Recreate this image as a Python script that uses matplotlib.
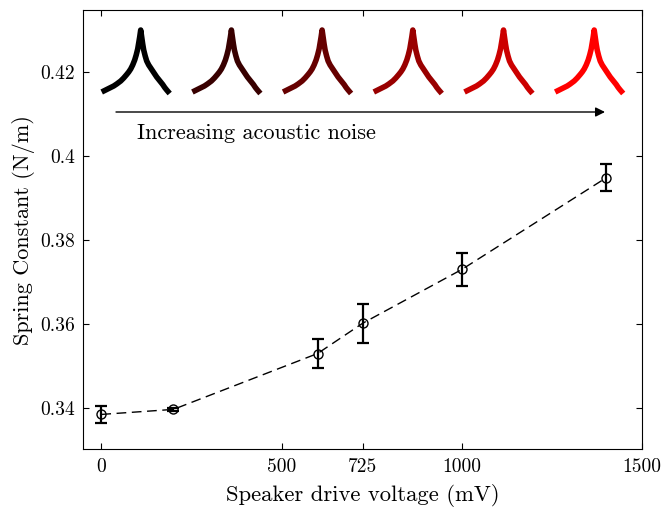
import matplotlib
matplotlib.use("Agg")
import matplotlib.pyplot as plt
import numpy as np

plt.rcParams['font.family'] = ['cmr10', 'DejaVu Serif']
plt.rcParams['axes.formatter.use_mathtext'] = True
plt.rcParams['mathtext.fontset'] = 'cm'

# ---- data ----
voltage_mV = [0, 200, 600, 725, 1000, 1400]
spring_k = [0.3385, 0.3397, 0.3530, 0.3602, 0.3730, 0.3948]
spring_err = [0.0021, 0.0003, 0.0035, 0.0046, 0.0039, 0.0032]

x_ticks = [0, 500, 725, 1000, 1500]
x_ticklabels = ["0", "500", "725", "1000", "1500"]
y_ticks = [0.34, 0.36, 0.38, 0.40, 0.42]
y_ticklabels = ["0.34", "0.36", "0.38", "0.4", "0.42"]

# resonance peak profile (offset / height in pixel units)
peak_dx = [-39, -35, -31, -27, -24, -20, -17, -14, -12, -10, -8, -6, -4.5, -3, -2, -1, 0,
           1, 2, 3, 4.5, 6, 8, 10, 12, 14, 16, 18, 20, 22, 24, 26, 29]
peak_h = [5, 7, 9, 11, 13, 16, 19, 22.5, 25, 28, 32, 37, 42, 48, 54, 60, 67,
          60, 53, 47, 41, 36, 32, 29, 26, 23, 20, 17.5, 15, 12.5, 9.5, 7, 3.5]
peak_colors = ["#000000", "#380000", "#660000", "#990000", "#cc0000", "#ff0000"]

W, H = 662, 509
fig = plt.figure(figsize=(W / 100, H / 100), dpi=100)

# main axes in pixel layout
L, R, T, B = 83.3, 642.0, 10.3, 449.3
ax = fig.add_axes([L / W, 1 - B / H, (R - L) / W, (B - T) / H])

ax.errorbar(voltage_mV, spring_k, yerr=spring_err, fmt='none', ecolor='black',
            elinewidth=1.6, capsize=4.3, capthick=1.6, zorder=3)
ax.plot(voltage_mV, spring_k, linestyle=(0, (7, 4)), color='black', lw=1.0,
        marker='o', markersize=6.5, markerfacecolor='none', markeredgecolor='black',
        markeredgewidth=1.0, zorder=4)

ax.set_xlim(-50, 1500)
ax.set_ylim(0.3302, 0.4347)
ax.set_xticks(x_ticks)
ax.set_xticklabels(x_ticklabels)
ax.set_yticks(y_ticks)
ax.set_yticklabels(y_ticklabels)
ax.tick_params(direction='in', length=4.3, width=0.8, top=True, right=True,
               labelsize=14, pad=6)
for s in ax.spines.values():
    s.set_linewidth(0.8)

ax.set_xlabel("Speaker drive voltage (mV)", fontsize=16.3, labelpad=6)
ax.set_ylabel("Spring Constant (N/m)", fontsize=16, labelpad=4)

# arrow + annotation
def fx(px):
    return (px - L) / (R - L)

def fy(py):
    return 1 - (py - T) / (B - T)

ax.annotate("", xy=(fx(605), fy(112)), xytext=(fx(116), fy(112)),
            xycoords='axes fraction', textcoords='axes fraction',
            arrowprops=dict(arrowstyle='-|>', color='black', lw=1.0,
                            mutation_scale=14, shrinkA=0, shrinkB=0))
ax.text(fx(137), fy(133), "Increasing acoustic noise", transform=ax.transAxes,
        fontsize=16, ha='left', va='center')

# inset peaks
IX0, IX1, IY_TOP, IY_BOT = 95.0, 635.0, 25.0, 100.0
ins = fig.add_axes([IX0 / W, 1 - IY_BOT / H, (IX1 - IX0) / W, (IY_BOT - IY_TOP) / H])
first_center = 140.7
spacing = 90.7
ins.set_xlim(IX0 - first_center, IX1 - first_center)
ins.set_ylim(-3, 72)
ins.axis('off')
ins.patch.set_alpha(0)
dx = np.array(peak_dx, dtype=float)
for i, c in enumerate(peak_colors):
    ins.plot(dx + i * spacing, peak_h, color=c, lw=4.0, solid_capstyle='butt',
             solid_joinstyle='round')

fig.savefig("out.png", dpi=100)
